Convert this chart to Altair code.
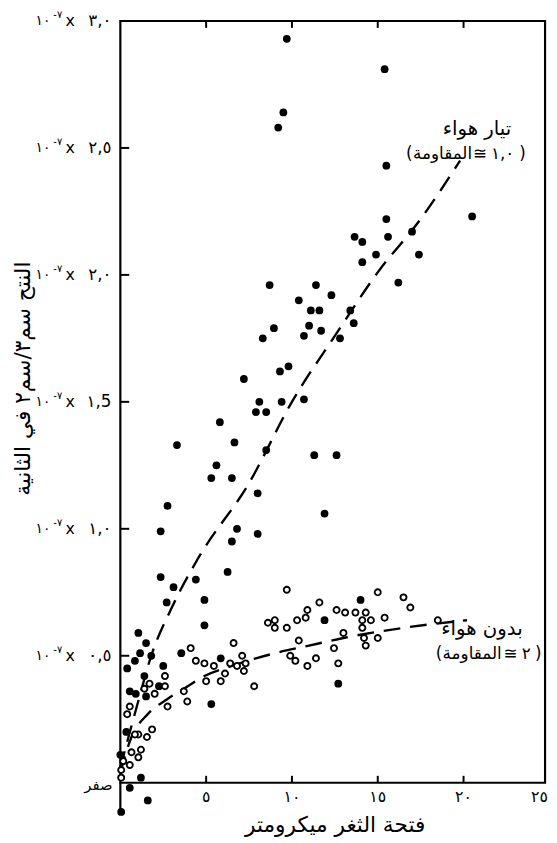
import altair as alt
import pandas as pd

# ---- data (x: stomatal aperture, y: transpiration x1e-7) ----
filled_x = [9.7, 15.4, 9.5, 9.2, 15.5, 20.5, 15.5, 13.65, 14.1, 15.6, 17.0, 14.9, 17.4, 14.1, 16.2,
            8.7, 11.4, 12.3, 10.4, 11.1, 11.6, 13.4,
            11.0, 11.7, 13.6, 10.7, 12.8, 8.95, 8.3, 9.8, 9.3, 7.2, 8.1, 9.4, 10.7, 7.9, 8.5, 5.8,
            3.3, 6.65, 8.5, 11.3, 12.6, 5.6, 5.3, 6.5, 8.0, 2.75, 11.9, 2.35, 6.8, 6.5, 8.0,
            2.35, 4.4, 6.25, 3.1,
            2.7, 4.9, 4.9, 14.0, 11.9, 1.05, 1.5, 1.15, 1.8, 0.85, 0.4, 2.5, 1.4, 3.55, 5.85,
            0.55, 0.9, 1.5, 2.25, 5.3, 12.7, 0.0, 0.35, 1.2, 0.55, 1.6, 0.05]
filled_y = [2.93, 2.81, 2.64, 2.58, 2.43, 2.23, 2.22, 2.15, 2.13, 2.15, 2.17, 2.08, 2.08, 2.05, 1.97,
            1.96, 1.96, 1.92, 1.90, 1.86, 1.86, 1.86,
            1.80, 1.78, 1.81, 1.76, 1.75, 1.79, 1.75, 1.64, 1.62, 1.59, 1.50, 1.50, 1.51, 1.46, 1.46, 1.42,
            1.33, 1.34, 1.31, 1.29, 1.29, 1.25, 1.20, 1.20, 1.14, 1.09, 1.06, 0.99, 1.00, 0.95, 0.98,
            0.81, 0.80, 0.83, 0.77,
            0.71, 0.72, 0.62, 0.72, 0.64, 0.59, 0.55, 0.51, 0.50, 0.48, 0.45, 0.46, 0.42, 0.51, 0.49,
            0.36, 0.35, 0.34, 0.38, 0.31, 0.39, 0.11, 0.20, 0.02, -0.02, -0.07, -0.115]

open_x = [9.7, 15.0, 16.5, 16.9, 11.6, 12.6, 13.1, 13.7, 14.3, 10.9, 10.8, 10.3, 9.7, 9.0, 8.6, 9.0,
          14.1, 14.6, 15.4, 18.5, 14.1, 13.0, 15.0, 14.2, 14.3, 12.45, 10.4, 9.9, 10.2, 11.4, 10.9, 12.7,
          6.6, 4.1, 4.4, 4.9, 5.45, 7.1, 7.3, 6.4, 6.8, 6.1, 7.2, 5.85, 5.0, 7.8, 3.7, 3.9, 2.75,
          2.6, 2.6, 1.7, 1.4, 2.0, 0.55, 0.4, 1.85, 1.55, 1.05, 0.85, 1.2, 0.65, 1.05, 0.55, 0.17,
          0.05, 0.05]
open_y = [0.76, 0.75, 0.73, 0.69, 0.71, 0.68, 0.67, 0.67, 0.67, 0.68, 0.65, 0.64, 0.61, 0.64, 0.63, 0.61,
          0.64, 0.64, 0.65, 0.64, 0.61, 0.59, 0.57, 0.57, 0.54, 0.53, 0.56, 0.50, 0.48, 0.49, 0.46, 0.47,
          0.55, 0.53, 0.48, 0.47, 0.46, 0.50, 0.47, 0.47, 0.46, 0.43, 0.44, 0.40, 0.40, 0.38, 0.36, 0.32, 0.30,
          0.42, 0.38, 0.39, 0.37, 0.35, 0.30, 0.27, 0.21, 0.18, 0.19, 0.19, 0.13, 0.12, 0.10, 0.07, 0.085,
          0.05, 0.02]

air_curve_x = [0.0, 1.0, 1.8, 3.0, 4.5, 7.5, 10.0, 12.5, 15.0, 17.5, 19.8]
air_curve_y = [0.06, 0.31, 0.50, 0.69, 0.88, 1.18, 1.50, 1.76, 2.01, 2.22, 2.45]

still_curve_x = [0.0, 0.65, 1.6, 2.75, 3.7, 4.9, 6.5, 9.0, 11.0, 13.0, 16.5, 20.2]
still_curve_y = [0.04, 0.18, 0.27, 0.33, 0.37, 0.42, 0.46, 0.51, 0.54, 0.57, 0.61, 0.64]

y_ticks = [0.5, 1.0, 1.5, 2.0, 2.5, 3.0]
y_tick_labels = ["٠,٥", "١,٠", "١,5", "٢,٠", "٢,٥", "٣,٠"]
x_ticks = [5, 10, 15, 20]
x_tick_labels = ["٥", "١٠", "١٥", "٢٠"]
x_last_label = "٢٥"

zero_label = "صفر"
x_title = "فتحة الثغر ميكرومتر"
y_title = "النتح سم٣/سم٢ في الثانية"
air_label = "تيار هواء"
still_label = "بدون هواء"
note_word = "المقاومة"
note_approx = "≅"
air_value = "١,٠"
still_value = "٢"

W, H = 431, 773
FONT = "DejaVu Sans"

xs = alt.Scale(domain=[0, 24.75], nice=False, zero=False)
ys = alt.Scale(domain=[0, 3.0], nice=False, zero=False)

filled_df = pd.DataFrame({"x": filled_x, "y": filled_y})
open_df = pd.DataFrame({"x": open_x, "y": open_y})
air_df = pd.DataFrame({"x": air_curve_x, "y": air_curve_y})
still_df = pd.DataFrame({"x": still_curve_x, "y": still_curve_y})
yt_df = pd.DataFrame({"y": y_ticks, "lab": y_tick_labels})
xt_df = pd.DataFrame({"x": x_ticks, "lab": x_tick_labels})
one = pd.DataFrame({"k": [0]})

X = alt.X("x:Q", scale=xs, axis=None)
Y = alt.Y("y:Q", scale=ys, axis=None)

air_line = alt.Chart(air_df).mark_line(
    color="black", strokeWidth=2.4, strokeDash=[17, 10], interpolate="monotone"
).encode(x=X, y=Y)
still_line = alt.Chart(still_df).mark_line(
    color="black", strokeWidth=2.4, strokeDash=[17, 10], interpolate="monotone"
).encode(x=X, y=Y)

filled_pts = alt.Chart(filled_df).mark_circle(color="black", size=62, opacity=1).encode(x=X, y=Y)
open_pts = alt.Chart(open_df).mark_point(
    shape="circle", filled=True, fill="white", stroke="black", strokeWidth=1.9, size=38, opacity=1
).encode(x=X, y=Y)

bottom_ticks = alt.Chart(xt_df).mark_rule(color="black", strokeWidth=2).encode(
    x=X, y=alt.value(H), y2=alt.value(H - 7))
top_ticks = alt.Chart(xt_df).mark_rule(color="black", strokeWidth=2).encode(
    x=X, y=alt.value(0), y2=alt.value(7))
left_ticks = alt.Chart(yt_df).mark_rule(color="black", strokeWidth=2).encode(
    y=Y, x=alt.value(0), x2=alt.value(9))
axis_ext = alt.Chart(one).mark_rule(color="black", strokeWidth=2.2).encode(
    x=alt.value(0), y=alt.value(H), y2=alt.value(H + 30))


def txt(s, x, y, size, align="center", **kw):
    return alt.Chart(one).mark_text(text=s, align=align, baseline="middle", font=FONT,
                                    fontSize=size, color="black", **kw).encode(
        x=alt.value(x), y=alt.value(y))


# y labels: "١٠⁻٧ x value"
yl_val = alt.Chart(yt_df).mark_text(align="right", baseline="middle", font=FONT, fontSize=17, color="black").encode(
    y=Y, x=alt.value(-9), text="lab:N")
yl_x = alt.Chart(yt_df).mark_text(text="x", align="center", baseline="middle", font=FONT, fontSize=16, color="black").encode(
    y=Y, x=alt.value(-51))
yl_exp = alt.Chart(yt_df).mark_text(text="-٧", align="right", baseline="middle", font=FONT, fontSize=10, dy=-6, color="black").encode(
    y=Y, x=alt.value(-59))
yl_ten = alt.Chart(yt_df).mark_text(text="١٠", align="right", baseline="middle", font=FONT, fontSize=14, color="black").encode(
    y=Y, x=alt.value(-71))
yl_zero = txt(zero_label, -8, H + 2, 15, align="right")

xl = alt.Chart(xt_df).mark_text(align="center", baseline="middle", font=FONT, fontSize=16, color="black").encode(
    x=X, y=alt.value(H + 15), text="lab:N")
xl_last = txt(x_last_label, W + 3, H + 15, 16, align="right")

xt = txt(x_title, 218, H + 43, 22)
yt = txt(y_title, -99, 363, 22, angle=270)

# annotation for the air-current curve
a1 = txt(air_label, 362, 110, 20)
a_lp = txt("(", 290, 135, 17, align="left")
a_w = txt(note_word, 327, 135, 17)
a_ap = txt(note_approx, 365, 135, 17)
a_v = txt(air_value, 388, 135, 17)
a_rp = txt(")", 408, 135, 17)

# annotation for the still-air curve
s1 = txt(still_label, 367, 617, 20)
s_lp = txt("(", 320, 642, 17, align="left")
s_w = txt(note_word, 357, 642, 17)
s_ap = txt(note_approx, 396, 642, 17)
s_v = txt(still_value, 412, 642, 17)
s_rp = txt(")", 424, 642, 17)

chart = alt.layer(
    air_line, still_line, filled_pts, open_pts,
    bottom_ticks, top_ticks, left_ticks, axis_ext,
    yl_val, yl_x, yl_exp, yl_ten, yl_zero, xl, xl_last, xt, yt,
    a1, a_lp, a_w, a_ap, a_v, a_rp, s1, s_lp, s_w, s_ap, s_v, s_rp
).properties(
    width=W, height=H,
    autosize=alt.AutoSizeParams(type="none"),
    padding={"left": 114, "top": 7, "right": 4, "bottom": 55},
    background="white",
).configure_view(stroke="black", strokeWidth=2.2)

chart.save("out.html", embed_options={"renderer": "svg", "actions": False})
